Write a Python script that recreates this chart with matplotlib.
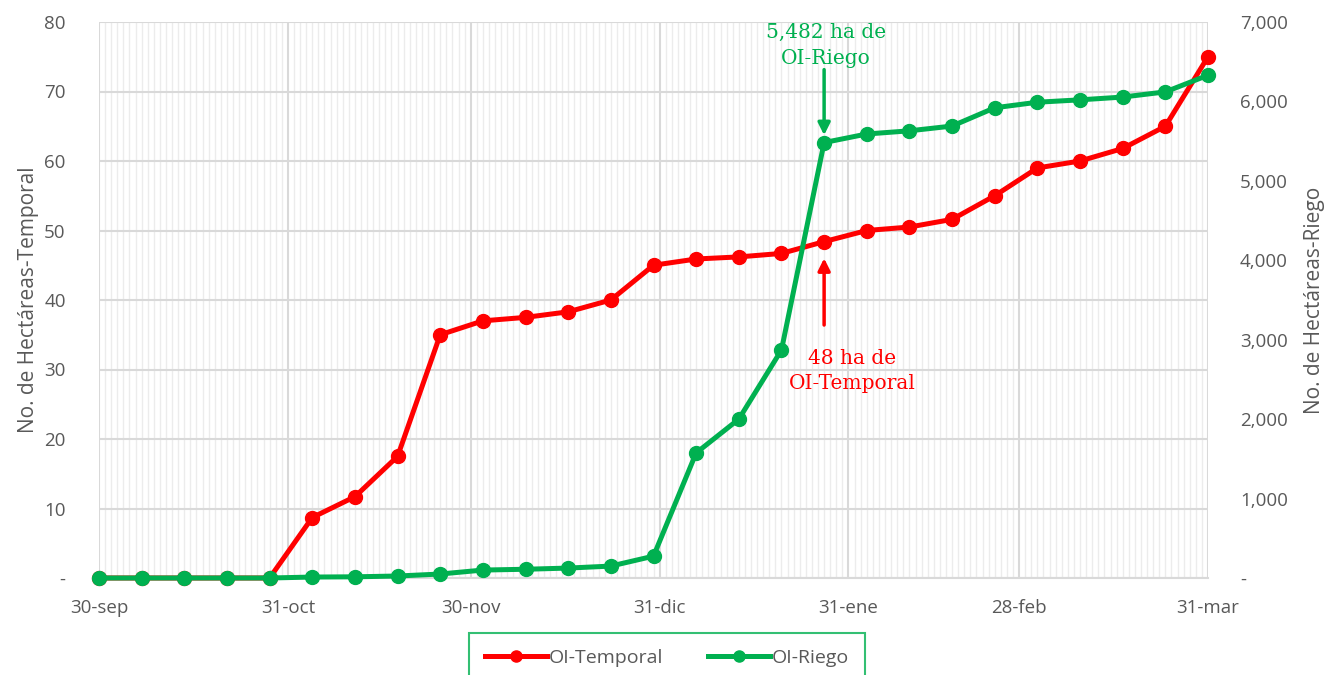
import matplotlib
matplotlib.use("Agg")
import matplotlib.pyplot as plt
import matplotlib.dates as mdates
import numpy as np
import datetime as dt

# ---- data ----
start = dt.date(2024, 9, 30)
dates = [start + dt.timedelta(days=7 * i) for i in range(27)]
temporal = [0, 0, 0, 0, 0, 8.7, 11.7, 17.5, 35.0, 37.0, 37.5, 38.3, 40.0, 45.0,
            45.9, 46.2, 46.7, 48.4, 50.0, 50.5, 51.6, 55.0, 59.0, 60.0, 61.8, 65.0, 75.0]
riego = [0, 0, 0, 0, 0, 12, 15, 25, 50, 100, 110, 125, 150, 275,
         1575, 2000, 2870, 5482, 5590, 5630, 5690, 5920, 5990, 6020, 6055, 6120, 6330]
tick_dates = [dt.date(2024, 9, 30), dt.date(2024, 10, 31), dt.date(2024, 11, 30),
              dt.date(2024, 12, 31), dt.date(2025, 1, 31), dt.date(2025, 2, 28),
              dt.date(2025, 3, 31)]
tick_labels = ["30-sep", "31-oct", "30-nov", "31-dic", "31-ene", "28-feb", "31-mar"]
left_ticks = [0, 10, 20, 30, 40, 50, 60, 70, 80]
right_ticks = [0, 1000, 2000, 3000, 4000, 5000, 6000, 7000]

RED = "#FF0000"
GREEN = "#00B050"
GRAY = "#595959"

plt.rcParams['font.family'] = ['Open Sans', 'DejaVu Sans']

fig = plt.figure(figsize=(13.3, 6.75), dpi=100)
ax = fig.add_axes([99 / 1330, 1 - 578 / 675, (1208 - 99) / 1330, (578 - 22) / 675])
ax2 = ax.twinx()

x0 = mdates.date2num(dates[0])
x1 = mdates.date2num(dates[-1])
ax.set_xlim(x0, x1)
ax.set_ylim(0, 80)
ax2.set_ylim(0, 7000)

# minor daily gridlines
days = np.arange(x0, x1 + 1)
ax.set_xticks(days, minor=True)
ax.grid(True, which='minor', axis='x', color='#ececec', linewidth=1.0)
ax.set_xticks([mdates.date2num(d) for d in tick_dates])
ax.set_xticklabels(tick_labels)
ax.grid(True, which='major', axis='x', color='#d9d9d9', linewidth=1.5)
ax.set_yticks(left_ticks)
ax.set_yticklabels(['-' if v == 0 else str(v) for v in left_ticks])
ax.grid(True, which='major', axis='y', color='#d9d9d9', linewidth=1.5)
ax.set_axisbelow(True)

ax2.set_yticks(right_ticks)
ax2.set_yticklabels(['-' if v == 0 else f"{v:,}" for v in right_ticks])

for a in (ax, ax2):
    for s in a.spines.values():
        s.set_visible(False)
    a.tick_params(which='both', length=0, colors=GRAY, labelsize=13.5)
ax.spines['bottom'].set_visible(True)
ax.spines['bottom'].set_color('#d9d9d9')
ax.spines['bottom'].set_linewidth(1.5)
ax.tick_params(axis='x', pad=15)
ax.tick_params(axis='y', pad=24)
ax2.tick_params(axis='y', pad=23)
ax.tick_params(axis='x', which='minor', length=0)

xnum = [mdates.date2num(d) for d in dates]
l1, = ax.plot(xnum, temporal, color=RED, lw=3.6, marker='o', ms=10, label='OI-Temporal',
              clip_on=False, zorder=3)
l2, = ax2.plot(xnum, riego, color=GREEN, lw=3.6, marker='o', ms=10, label='OI-Riego',
               clip_on=False, zorder=3)

ax.set_ylabel("No. de Hectáreas-Temporal", color=GRAY, fontsize=15, labelpad=4)
ax2.set_ylabel("No. de Hectáreas-Riego", color=GRAY, fontsize=15, labelpad=12)

# annotations
xa = xnum[17]
ax2.annotate("", xy=(xa, 5575), xytext=(xa, 6400),
             arrowprops=dict(arrowstyle='-|>', color=GREEN, lw=2.5, mutation_scale=18,
                             shrinkA=0, shrinkB=0))
ax2.text(xa + 0.3, 6985, "5,482 ha de\nOI-Riego", color=GREEN, ha='center', va='top',
         fontsize=14.5, family='DejaVu Serif', linespacing=1.45)
ax.annotate("", xy=(xa, 46.0), xytext=(xa, 36.4),
            arrowprops=dict(arrowstyle='-|>', color=RED, lw=2.5, mutation_scale=18,
                            shrinkA=0, shrinkB=0))
ax.text(xa + 4.6, 33.0, "48 ha de\nOI-Temporal", color=RED, ha='center', va='top',
        fontsize=14.5, family='DejaVu Serif', linespacing=1.45)

leg = fig.legend(handles=[l1, l2], loc='center', bbox_to_anchor=(667 / 1330, 1 - 658 / 675),
                 ncol=2, frameon=True, fontsize=14, handlelength=3.2, columnspacing=2.3,
                 borderpad=0.8, handletextpad=0.1, fancybox=False, markerscale=0.8,
                 borderaxespad=0)
leg.get_frame().set_edgecolor(GREEN)
leg.get_frame().set_linewidth(1.5)
for t in leg.get_texts():
    t.set_color(GRAY)

fig.savefig("out.png", dpi=100)
